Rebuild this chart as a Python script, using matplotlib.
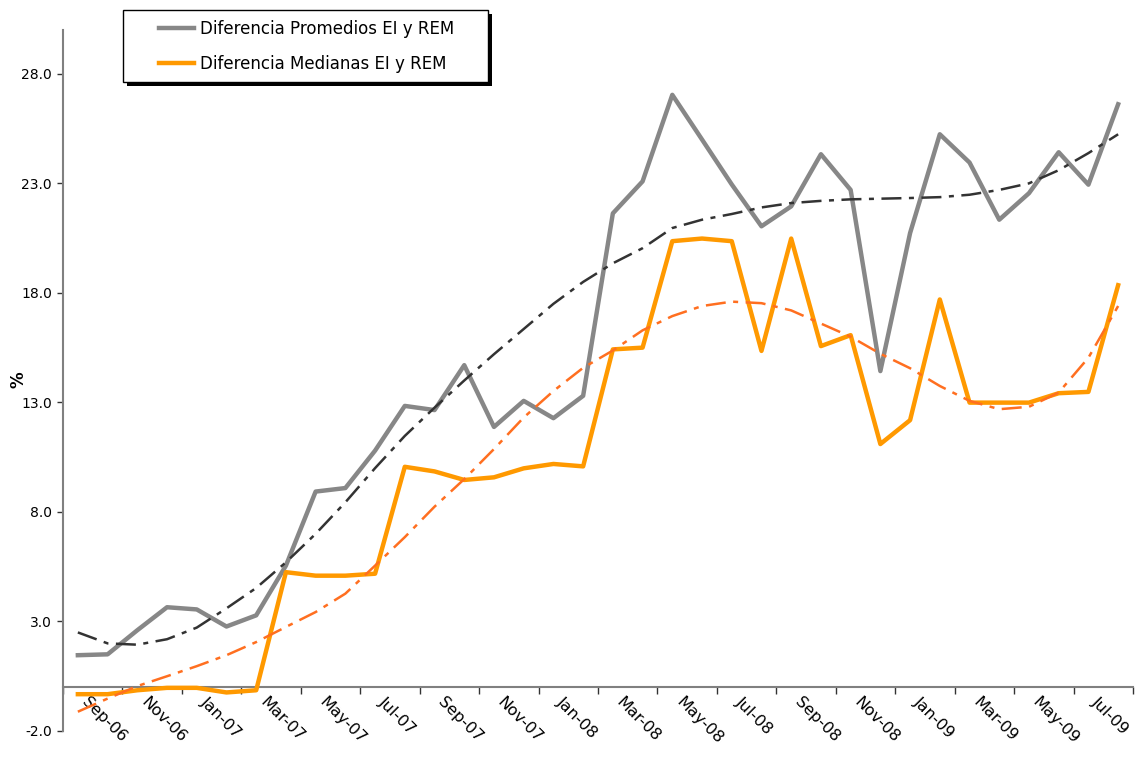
import numpy as np
import matplotlib.pyplot as plt
from matplotlib.patches import Rectangle

# meses Sep-06 .. Aug-09
meses = ["Sep-06", "Oct-06", "Nov-06", "Dec-06", "Jan-07", "Feb-07", "Mar-07", "Apr-07",
         "May-07", "Jun-07", "Jul-07", "Aug-07", "Sep-07", "Oct-07", "Nov-07", "Dec-07",
         "Jan-08", "Feb-08", "Mar-08", "Apr-08", "May-08", "Jun-08", "Jul-08", "Aug-08",
         "Sep-08", "Oct-08", "Nov-08", "Dec-08", "Jan-09", "Feb-09", "Mar-09", "Apr-09",
         "May-09", "Jun-09", "Jul-09", "Aug-09"]

# Diferencia promedios EI y REM
promedios = [1.46, 1.5, 2.6, 3.65, 3.55, 2.77, 3.28, 5.55, 8.93, 9.09, 10.8, 12.84,
             12.65, 14.7, 11.88, 13.07, 12.28, 13.3, 21.63, 23.09, 27.04, 25.0, 22.95, 21.04,
             21.95, 24.33, 22.7, 14.43, 20.73, 25.24, 23.95, 21.34, 22.55, 24.42, 22.94, 26.61]

# Diferencia medianas EI y REM
medianas = [-0.32, -0.32, -0.14, -0.03, -0.03, -0.24, -0.14, 5.25, 5.09, 5.09, 5.18, 10.06,
            9.85, 9.46, 9.58, 9.99, 10.19, 10.08, 15.42, 15.5, 20.36, 20.48, 20.36, 15.35,
            20.48, 15.57, 16.07, 11.1, 12.19, 17.7, 12.99, 12.99, 12.99, 13.42, 13.48, 18.35]

# lineas de tendencia
tend_promedios = [2.5, 2.0, 1.94, 2.19, 2.72, 3.6, 4.53, 5.7, 7.0, 8.44, 10.0, 11.47,
                  12.76, 14.0, 15.2, 16.35, 17.5, 18.5, 19.35, 20.04, 20.96, 21.34, 21.6, 21.9,
                  22.1, 22.2, 22.27, 22.3, 22.33, 22.37, 22.48, 22.7, 23.0, 23.6, 24.38, 25.24]
tend_medianas = [-1.12, -0.52, 0.05, 0.5, 0.96, 1.46, 2.06, 2.75, 3.43, 4.27, 5.55, 6.85,
                 8.24, 9.5, 10.87, 12.31, 13.52, 14.58, 15.37, 16.29, 16.94, 17.4, 17.6, 17.53,
                 17.2, 16.6, 16.0, 15.22, 14.56, 13.75, 13.07, 12.69, 12.8, 13.45, 15.04, 17.4]

yticks = [-2, 3, 8, 13, 18, 23, 28]

x = np.arange(len(meses))

fig = plt.figure(figsize=(11.38, 7.72), dpi=100)
ax = fig.add_axes([63 / 1138, 1 - 731 / 772, 1070 / 1138, 701 / 772])

ax.plot(x, promedios, color="#878787", lw=3.2, label="Diferencia Promedios EI y REM", zorder=3)
ax.plot(x, medianas, color="#FF9900", lw=3.2, label="Diferencia Medianas EI y REM", zorder=3)
ax.plot(x, tend_promedios, color="#333333", lw=1.8, ls=(0, (8, 3, 2, 3)), zorder=4)
ax.plot(x, tend_medianas, color="#FF6F20", lw=1.8, ls=(0, (8, 3, 2, 3)), zorder=4)

ax.set_xlim(-0.5, len(meses) - 0.5)
ax.set_ylim(-2, 30)

# ejes
ax.spines["top"].set_visible(False)
ax.spines["right"].set_visible(False)
ax.spines["bottom"].set_position(("data", 0))
ax.spines["bottom"].set_color("#808080")
ax.spines["bottom"].set_linewidth(1.5)
ax.spines["left"].set_color("#808080")
ax.spines["left"].set_linewidth(1.5)

ax.set_yticks(yticks)
ax.set_yticklabels([f"{v:.1f}" for v in yticks], fontsize=10)
ax.tick_params(axis="y", length=4, width=1, color="#333333", pad=4)

ax.set_xticks(np.arange(-0.5, len(meses), 2))
ax.set_xticklabels([])
ax.tick_params(axis="x", which="major", length=5, width=1, color="#333333")
ax.set_xticks(x[::2] + 0.2, minor=True)
ax.set_xticklabels(meses[::2], minor=True, fontsize=11.5, rotation=-45,
                   rotation_mode="anchor", ha="left", va="center")
ax.tick_params(axis="x", which="minor", length=0, pad=9)

fig.text(18 / 1138, 1 - 380 / 772, "%", rotation=90, fontsize=12, fontweight="bold",
         ha="center", va="center")

# leyenda con marco y sombra
sombra = Rectangle((127 / 1138, 1 - 86 / 772), 365 / 1138, 72 / 772, transform=fig.transFigure,
                   facecolor="black", edgecolor="none", zorder=5, clip_on=False)
marco = Rectangle((123 / 1138, 1 - 82 / 772), 365 / 1138, 72 / 772, transform=fig.transFigure,
                  facecolor="white", edgecolor="black", lw=1, zorder=6, clip_on=False)
ax.add_patch(sombra)
ax.add_patch(marco)
leg = ax.legend(loc="upper left", bbox_to_anchor=(159 / 1138, 1 - 20 / 772),
                bbox_transform=fig.transFigure, frameon=False, fontsize=12,
                handlelength=2.1, handletextpad=0.35, borderpad=0, borderaxespad=0,
                labelspacing=1.0)
leg.set_zorder(7)

fig.savefig("out.png", dpi=100)
